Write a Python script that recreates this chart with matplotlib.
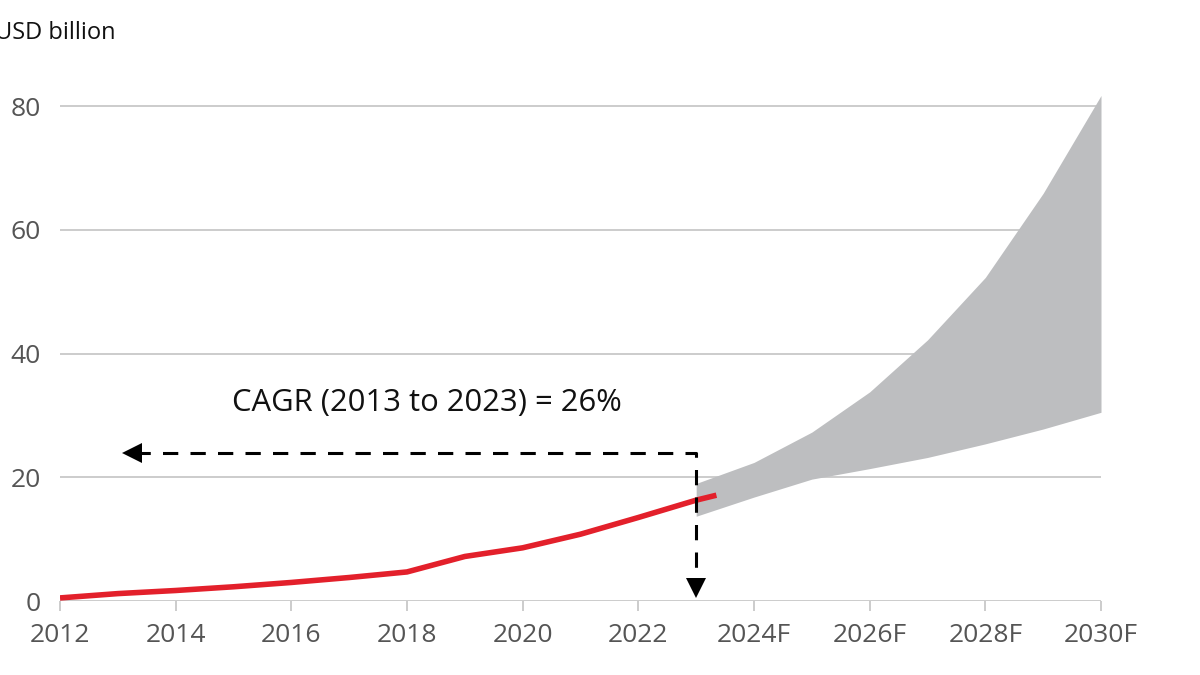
import matplotlib
matplotlib.use("Agg")
from matplotlib import pyplot as plt

plt.rcParams['font.family'] = ['Open Sans', 'DejaVu Sans']

# historical market size (USD billion)
hist_years = [2012, 2013, 2014, 2015, 2016, 2017, 2018, 2019, 2020, 2021, 2022, 2023, 2023.35]
hist_values = [0.5, 1.2, 1.7, 2.3, 3.0, 3.8, 4.7, 7.2, 8.6, 10.8, 13.5, 16.3, 17.1]

# forecast range
fc_years = [2023, 2024, 2025, 2026, 2027, 2028, 2029, 2030]
fc_upper = [19.0, 22.4, 27.3, 33.8, 42.2, 52.3, 65.9, 81.7]
fc_lower = [13.7, 16.8, 19.7, 21.4, 23.2, 25.4, 27.8, 30.5]

xtick_pos = [2012, 2014, 2016, 2018, 2020, 2022, 2024, 2026, 2028, 2030]
xtick_labels = ['2012', '2014', '2016', '2018', '2020', '2022', '2024F', '2026F', '2028F', '2030F']
ytick_pos = [0, 20, 40, 60, 80]

cagr_start, cagr_end, cagr_level = 2013, 2023, 24
cagr_text = 'CAGR (2013 to 2023) = 26%'

fig = plt.figure(figsize=(12, 6.75), dpi=100)
ax = fig.add_axes([0.05, 0.1096, 0.8675, 0.7700])

grid_col = '#c8c8c8'
for y in ytick_pos:
    ax.axhline(y, color=grid_col, lw=1.3, zorder=1)

ax.fill_between(fc_years, fc_lower, fc_upper, color='#bdbec0', lw=0, zorder=2)
ax.plot(hist_years, hist_values, color='#e3202b', lw=4, solid_capstyle='butt', zorder=4)

# CAGR arrows
ax.plot([cagr_start + 0.3, cagr_end, cagr_end], [cagr_level, cagr_level, 2.2],
        color='black', lw=2.2, dashes=(5, 4), zorder=5)
ax.plot([cagr_start + 0.25], [cagr_level], marker='<', color='black', ms=14, mew=0, zorder=5)
ax.plot([cagr_end], [2.1], marker='v', color='black', ms=14, mew=0, zorder=5)
ax.text(2014.97, 32, cagr_text, fontsize=22.3, va='center', ha='left', color='#111111')

ax.set_xlim(2012, 2030)
ax.set_ylim(0, 84)
ax.set_xticks(xtick_pos)
ax.set_xticklabels(xtick_labels)
ax.set_yticks(ytick_pos)
for s in ax.spines.values():
    s.set_visible(False)
ax.tick_params(axis='x', length=7, width=1.3, color=grid_col, labelsize=19,
               labelcolor='#555555', pad=9)
ax.tick_params(axis='y', length=0, labelsize=19, labelcolor='#555555', pad=14)

fig.text(-0.004, 1 - 33 / 675, 'USD billion', fontsize=17, va='center', ha='left',
         color='#111111')

fig.savefig('out.png', dpi=100)
